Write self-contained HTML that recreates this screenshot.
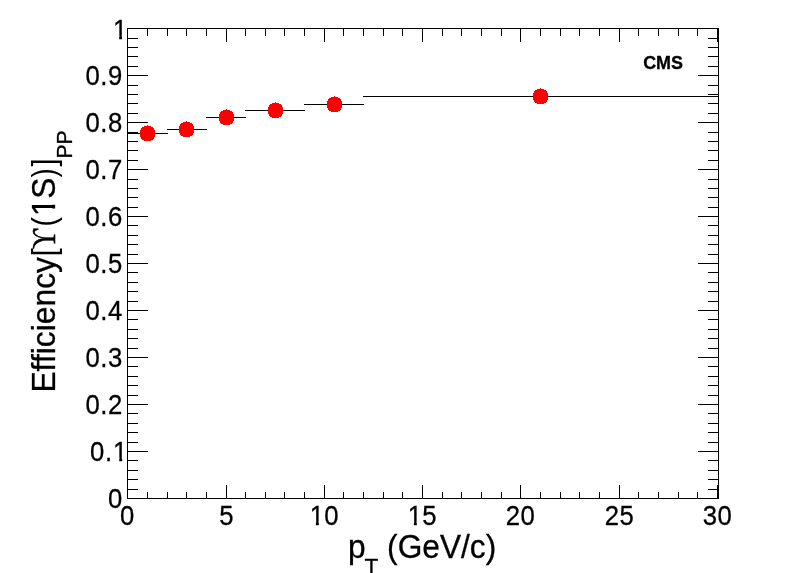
<!DOCTYPE html>
<html><head><meta charset="utf-8"><title>Efficiency</title>
<style>
html,body{margin:0;padding:0;background:#fff;}
body{width:798px;height:573px;overflow:hidden;}
svg{display:block;font-family:"Liberation Sans",sans-serif;}
</style></head><body>
<svg width="798" height="573" viewBox="0 0 798 573">
<rect width="798" height="573" fill="#fff"/>
<g fill="#000" shape-rendering="crispEdges">
<rect x="127" y="28" width="592" height="1"/>
<rect x="127" y="498" width="592" height="1"/>
<rect x="127" y="28" width="1" height="471"/>
<rect x="718" y="28" width="1" height="471"/>
<rect x="127" y="485" width="1" height="14"/>
<rect x="127" y="28" width="1" height="14"/>
<rect x="147" y="492" width="1" height="7"/>
<rect x="147" y="28" width="1" height="8"/>
<rect x="167" y="492" width="1" height="7"/>
<rect x="167" y="28" width="1" height="8"/>
<rect x="186" y="492" width="1" height="7"/>
<rect x="186" y="28" width="1" height="8"/>
<rect x="206" y="492" width="1" height="7"/>
<rect x="206" y="28" width="1" height="8"/>
<rect x="226" y="485" width="1" height="14"/>
<rect x="226" y="28" width="1" height="14"/>
<rect x="245" y="492" width="1" height="7"/>
<rect x="245" y="28" width="1" height="8"/>
<rect x="265" y="492" width="1" height="7"/>
<rect x="265" y="28" width="1" height="8"/>
<rect x="284" y="492" width="1" height="7"/>
<rect x="284" y="28" width="1" height="8"/>
<rect x="304" y="492" width="1" height="7"/>
<rect x="304" y="28" width="1" height="8"/>
<rect x="324" y="485" width="1" height="14"/>
<rect x="324" y="28" width="1" height="14"/>
<rect x="343" y="492" width="1" height="7"/>
<rect x="343" y="28" width="1" height="8"/>
<rect x="363" y="492" width="1" height="7"/>
<rect x="363" y="28" width="1" height="8"/>
<rect x="383" y="492" width="1" height="7"/>
<rect x="383" y="28" width="1" height="8"/>
<rect x="402" y="492" width="1" height="7"/>
<rect x="402" y="28" width="1" height="8"/>
<rect x="422" y="485" width="1" height="14"/>
<rect x="422" y="28" width="1" height="14"/>
<rect x="442" y="492" width="1" height="7"/>
<rect x="442" y="28" width="1" height="8"/>
<rect x="461" y="492" width="1" height="7"/>
<rect x="461" y="28" width="1" height="8"/>
<rect x="481" y="492" width="1" height="7"/>
<rect x="481" y="28" width="1" height="8"/>
<rect x="501" y="492" width="1" height="7"/>
<rect x="501" y="28" width="1" height="8"/>
<rect x="520" y="485" width="1" height="14"/>
<rect x="520" y="28" width="1" height="14"/>
<rect x="540" y="492" width="1" height="7"/>
<rect x="540" y="28" width="1" height="8"/>
<rect x="560" y="492" width="1" height="7"/>
<rect x="560" y="28" width="1" height="8"/>
<rect x="579" y="492" width="1" height="7"/>
<rect x="579" y="28" width="1" height="8"/>
<rect x="599" y="492" width="1" height="7"/>
<rect x="599" y="28" width="1" height="8"/>
<rect x="619" y="485" width="1" height="14"/>
<rect x="619" y="28" width="1" height="14"/>
<rect x="638" y="492" width="1" height="7"/>
<rect x="638" y="28" width="1" height="8"/>
<rect x="658" y="492" width="1" height="7"/>
<rect x="658" y="28" width="1" height="8"/>
<rect x="678" y="492" width="1" height="7"/>
<rect x="678" y="28" width="1" height="8"/>
<rect x="697" y="492" width="1" height="7"/>
<rect x="697" y="28" width="1" height="8"/>
<rect x="717" y="485" width="1" height="14"/>
<rect x="717" y="28" width="1" height="14"/>
<rect x="127" y="498" width="21" height="1"/>
<rect x="698" y="498" width="21" height="1"/>
<rect x="127" y="489" width="11" height="1"/>
<rect x="708" y="489" width="11" height="1"/>
<rect x="127" y="479" width="11" height="1"/>
<rect x="708" y="479" width="11" height="1"/>
<rect x="127" y="470" width="11" height="1"/>
<rect x="708" y="470" width="11" height="1"/>
<rect x="127" y="460" width="11" height="1"/>
<rect x="708" y="460" width="11" height="1"/>
<rect x="127" y="451" width="21" height="1"/>
<rect x="698" y="451" width="21" height="1"/>
<rect x="127" y="442" width="11" height="1"/>
<rect x="708" y="442" width="11" height="1"/>
<rect x="127" y="432" width="11" height="1"/>
<rect x="708" y="432" width="11" height="1"/>
<rect x="127" y="423" width="11" height="1"/>
<rect x="708" y="423" width="11" height="1"/>
<rect x="127" y="413" width="11" height="1"/>
<rect x="708" y="413" width="11" height="1"/>
<rect x="127" y="404" width="21" height="1"/>
<rect x="698" y="404" width="21" height="1"/>
<rect x="127" y="395" width="11" height="1"/>
<rect x="708" y="395" width="11" height="1"/>
<rect x="127" y="385" width="11" height="1"/>
<rect x="708" y="385" width="11" height="1"/>
<rect x="127" y="376" width="11" height="1"/>
<rect x="708" y="376" width="11" height="1"/>
<rect x="127" y="366" width="11" height="1"/>
<rect x="708" y="366" width="11" height="1"/>
<rect x="127" y="357" width="21" height="1"/>
<rect x="698" y="357" width="21" height="1"/>
<rect x="127" y="348" width="11" height="1"/>
<rect x="708" y="348" width="11" height="1"/>
<rect x="127" y="338" width="11" height="1"/>
<rect x="708" y="338" width="11" height="1"/>
<rect x="127" y="329" width="11" height="1"/>
<rect x="708" y="329" width="11" height="1"/>
<rect x="127" y="319" width="11" height="1"/>
<rect x="708" y="319" width="11" height="1"/>
<rect x="127" y="310" width="21" height="1"/>
<rect x="698" y="310" width="21" height="1"/>
<rect x="127" y="301" width="11" height="1"/>
<rect x="708" y="301" width="11" height="1"/>
<rect x="127" y="291" width="11" height="1"/>
<rect x="708" y="291" width="11" height="1"/>
<rect x="127" y="282" width="11" height="1"/>
<rect x="708" y="282" width="11" height="1"/>
<rect x="127" y="272" width="11" height="1"/>
<rect x="708" y="272" width="11" height="1"/>
<rect x="127" y="263" width="21" height="1"/>
<rect x="698" y="263" width="21" height="1"/>
<rect x="127" y="254" width="11" height="1"/>
<rect x="708" y="254" width="11" height="1"/>
<rect x="127" y="244" width="11" height="1"/>
<rect x="708" y="244" width="11" height="1"/>
<rect x="127" y="235" width="11" height="1"/>
<rect x="708" y="235" width="11" height="1"/>
<rect x="127" y="225" width="11" height="1"/>
<rect x="708" y="225" width="11" height="1"/>
<rect x="127" y="216" width="21" height="1"/>
<rect x="698" y="216" width="21" height="1"/>
<rect x="127" y="207" width="11" height="1"/>
<rect x="708" y="207" width="11" height="1"/>
<rect x="127" y="197" width="11" height="1"/>
<rect x="708" y="197" width="11" height="1"/>
<rect x="127" y="188" width="11" height="1"/>
<rect x="708" y="188" width="11" height="1"/>
<rect x="127" y="179" width="11" height="1"/>
<rect x="708" y="179" width="11" height="1"/>
<rect x="127" y="169" width="21" height="1"/>
<rect x="698" y="169" width="21" height="1"/>
<rect x="127" y="160" width="11" height="1"/>
<rect x="708" y="160" width="11" height="1"/>
<rect x="127" y="150" width="11" height="1"/>
<rect x="708" y="150" width="11" height="1"/>
<rect x="127" y="141" width="11" height="1"/>
<rect x="708" y="141" width="11" height="1"/>
<rect x="127" y="132" width="11" height="1"/>
<rect x="708" y="132" width="11" height="1"/>
<rect x="127" y="122" width="21" height="1"/>
<rect x="698" y="122" width="21" height="1"/>
<rect x="127" y="113" width="11" height="1"/>
<rect x="708" y="113" width="11" height="1"/>
<rect x="127" y="103" width="11" height="1"/>
<rect x="708" y="103" width="11" height="1"/>
<rect x="127" y="94" width="11" height="1"/>
<rect x="708" y="94" width="11" height="1"/>
<rect x="127" y="85" width="11" height="1"/>
<rect x="708" y="85" width="11" height="1"/>
<rect x="127" y="75" width="21" height="1"/>
<rect x="698" y="75" width="21" height="1"/>
<rect x="127" y="66" width="11" height="1"/>
<rect x="708" y="66" width="11" height="1"/>
<rect x="127" y="56" width="11" height="1"/>
<rect x="708" y="56" width="11" height="1"/>
<rect x="127" y="47" width="11" height="1"/>
<rect x="708" y="47" width="11" height="1"/>
<rect x="127" y="38" width="11" height="1"/>
<rect x="708" y="38" width="11" height="1"/>
<rect x="127" y="28" width="21" height="1"/>
<rect x="698" y="28" width="21" height="1"/>
</g>
<g fill="#000" shape-rendering="crispEdges">
<rect x="127" y="133" width="41" height="1"/>
<rect x="167" y="129" width="40" height="1"/>
<rect x="206" y="117" width="40" height="1"/>
<rect x="245" y="110" width="60" height="1"/>
<rect x="304" y="104" width="60" height="1"/>
<rect x="363" y="96" width="355" height="1"/>
</g>
<g fill="#f00" shape-rendering="crispEdges">
<path d="M147 125h1v1h-1zM144 126h7v1h-7zM142 127h11v1h-11zM141 128h13v1h-13zM141 129h13v1h-13zM140 130h15v1h-15zM140 131h15v1h-15zM140 132h15v1h-15zM140 133h15v1h-15zM140 134h15v1h-15zM140 135h15v1h-15zM140 136h15v1h-15zM141 137h13v1h-13zM141 138h13v1h-13zM142 139h11v1h-11zM144 140h7v1h-7z"/>
<path d="M186 121h1v1h-1zM183 122h7v1h-7zM181 123h11v1h-11zM180 124h13v1h-13zM180 125h13v1h-13zM179 126h15v1h-15zM179 127h15v1h-15zM179 128h15v1h-15zM179 129h15v1h-15zM179 130h15v1h-15zM179 131h15v1h-15zM179 132h15v1h-15zM180 133h13v1h-13zM180 134h13v1h-13zM181 135h11v1h-11zM183 136h7v1h-7z"/>
<path d="M226 109h1v1h-1zM223 110h7v1h-7zM221 111h11v1h-11zM220 112h13v1h-13zM220 113h13v1h-13zM219 114h15v1h-15zM219 115h15v1h-15zM219 116h15v1h-15zM219 117h15v1h-15zM219 118h15v1h-15zM219 119h15v1h-15zM219 120h15v1h-15zM220 121h13v1h-13zM220 122h13v1h-13zM221 123h11v1h-11zM223 124h7v1h-7z"/>
<path d="M275 102h1v1h-1zM272 103h7v1h-7zM270 104h11v1h-11zM269 105h13v1h-13zM269 106h13v1h-13zM268 107h15v1h-15zM268 108h15v1h-15zM268 109h15v1h-15zM268 110h15v1h-15zM268 111h15v1h-15zM268 112h15v1h-15zM268 113h15v1h-15zM269 114h13v1h-13zM269 115h13v1h-13zM270 116h11v1h-11zM272 117h7v1h-7z"/>
<path d="M334 96h1v1h-1zM331 97h7v1h-7zM329 98h11v1h-11zM328 99h13v1h-13zM328 100h13v1h-13zM327 101h15v1h-15zM327 102h15v1h-15zM327 103h15v1h-15zM327 104h15v1h-15zM327 105h15v1h-15zM327 106h15v1h-15zM327 107h15v1h-15zM328 108h13v1h-13zM328 109h13v1h-13zM329 110h11v1h-11zM331 111h7v1h-7z"/>
<path d="M540 88h1v1h-1zM537 89h7v1h-7zM535 90h11v1h-11zM534 91h13v1h-13zM534 92h13v1h-13zM533 93h15v1h-15zM533 94h15v1h-15zM533 95h15v1h-15zM533 96h15v1h-15zM533 97h15v1h-15zM533 98h15v1h-15zM533 99h15v1h-15zM534 100h13v1h-13zM534 101h13v1h-13zM535 102h11v1h-11zM537 103h7v1h-7z"/>
</g>
<defs><clipPath id="c1"><path clip-rule="evenodd" d="M-60 -40H120V12H-60ZM0.96 -3.72H6.79V4H0.96ZM10.00 -3.72H15.31V4H10.00Z"/></clipPath><clipPath id="c01"><path clip-rule="evenodd" d="M-60 -40H120V12H-60ZM26.40 -3.72H32.23V4H26.40ZM35.44 -3.72H40.74V4H35.44Z"/></clipPath></defs>
<g font-size="28.4px" fill="#000" stroke="#000" stroke-width="0.3" letter-spacing="0.6">
<text transform="translate(122.8,508.3) scale(0.905,1)" text-anchor="end">0</text>
<text transform="translate(90.11,461.3) scale(0.905,1)" clip-path="url(#c01)">0.<tspan dx="0.55">1</tspan></text>
<text transform="translate(122.8,414.3) scale(0.905,1)" text-anchor="end">0.2</text>
<text transform="translate(122.8,367.3) scale(0.905,1)" text-anchor="end">0.3</text>
<text transform="translate(122.8,320.3) scale(0.905,1)" text-anchor="end">0.4</text>
<text transform="translate(122.8,273.3) scale(0.905,1)" text-anchor="end">0.5</text>
<text transform="translate(122.8,226.3) scale(0.905,1)" text-anchor="end">0.6</text>
<text transform="translate(122.8,179.3) scale(0.905,1)" text-anchor="end">0.7</text>
<text transform="translate(122.8,132.3) scale(0.905,1)" text-anchor="end">0.8</text>
<text transform="translate(122.8,85.3) scale(0.905,1)" text-anchor="end">0.9</text>
<text transform="translate(113.03,38.8) scale(0.905,1)" clip-path="url(#c1)">1</text>
<text transform="translate(127.5,525.2) scale(0.905,1)" text-anchor="middle">0</text>
<text transform="translate(226.7,525.2) scale(0.905,1)" text-anchor="middle">5</text>
<text transform="translate(309.73,525.2) scale(0.905,1)" clip-path="url(#c1)">1<tspan dx="-0.41">0</tspan></text>
<text transform="translate(407.73,525.2) scale(0.905,1)" clip-path="url(#c1)">1<tspan dx="-0.41">5</tspan></text>
<text transform="translate(520.5,525.2) scale(0.905,1)" text-anchor="middle">20</text>
<text transform="translate(619.5,525.2) scale(0.905,1)" text-anchor="middle">25</text>
<text transform="translate(717.5,525.2) scale(0.905,1)" text-anchor="middle">30</text>
</g>
<text transform="translate(663.1,69.1) scale(0.965,1)" font-size="18.6px" font-weight="bold" text-anchor="middle" stroke="#000" stroke-width="0.3">CMS</text>
<text transform="translate(348,558.2) scale(0.96,1)" font-size="33px" stroke="#000" stroke-width="0.3">p<tspan font-size="23.5px" dx="-1.1" dy="17.8">T</tspan><tspan dy="-17.8"> (GeV/c)</tspan></text>
<defs><clipPath id="c2"><path d="M-4 -34H34V-4.07H11.56V2H7.95V-4.07H-4Z"/></clipPath></defs>
<g fill="#000" stroke="#000" stroke-width="0.3"><text transform="translate(55.0,392.6) rotate(-90) scale(0.964,1)" font-size="33px">Efficiency</text><text transform="translate(55.0,256.3) rotate(-90) scale(0.88,1)" font-size="33px" stroke="none">[</text><text transform="translate(55.0,249.0) rotate(-90) scale(0.84,1)" font-size="33px" font-family="'Liberation Serif',serif" stroke-width="0.6">ϒ</text><text transform="translate(55.0,226.4) rotate(-90) scale(0.85,1)" font-size="33px" stroke="none">(</text><text transform="translate(55.0,216.36) rotate(-90) scale(1.0,1)" font-size="33px" clip-path="url(#c2)">1</text><text transform="translate(55.0,198.83) rotate(-90) scale(0.96,1)" font-size="33px">S</text><text transform="translate(55.0,177.4) rotate(-90) scale(0.85,1)" font-size="33px" stroke="none">)</text><text transform="translate(55.0,166.4) rotate(-90) scale(0.88,1)" font-size="33px" stroke="none">]</text><text transform="translate(71.8,158.5) rotate(-90) scale(0.96,1)" font-size="22px">PP</text></g>
</svg>
</body></html>
